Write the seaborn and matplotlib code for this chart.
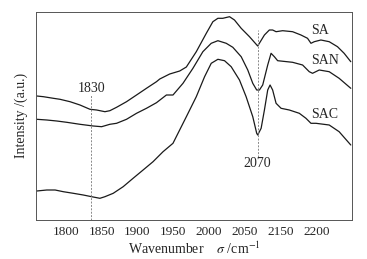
import numpy as np
import pandas as pd
import matplotlib
matplotlib.use("Agg")
import matplotlib.pyplot as plt
import seaborn as sns

# ---- data ----
sa_w = [1759.1, 1768.4, 1782.3, 1791.6, 1805.6, 1819.5, 1833.5, 1842.8, 1854.4, 1861.3,
        1870.7, 1884.6, 1898.6, 1912.5, 1926.5, 1931.1, 1945.0, 1959.0, 1968.3, 1982.2,
        1996.2, 2005.4, 2012.4, 2019.3, 2028.7, 2035.6, 2045.0, 2056.6, 2068.1, 2077.5,
        2084.4, 2089.0, 2093.8, 2103.0, 2116.9, 2128.6, 2137.8, 2142.6, 2147.2, 2156.5,
        2168.1, 2179.7, 2189.0, 2198.3]
sa_i = [124.0, 123.3, 121.7, 120.7, 118.3, 115.0, 110.7, 110.0, 108.3, 109.3,
        112.7, 118.3, 125.0, 131.7, 138.3, 141.0, 146.0, 149.0, 153.0, 168.3,
        186.7, 198.3, 201.7, 201.7, 203.3, 200.0, 191.7, 183.3, 174.0, 185.0,
        190.0, 190.0, 188.3, 189.3, 188.3, 185.0, 181.7, 176.7, 178.3, 180.0,
        178.3, 173.3, 166.7, 158.3]

san_w = [1759.1, 1773.1, 1787.0, 1801.0, 1819.5, 1838.1, 1849.8, 1861.3, 1870.7, 1884.6,
         1898.6, 1912.5, 1926.5, 1940.4, 1949.6, 1963.6, 1977.5, 1991.4, 2003.1, 2012.4,
         2024.1, 2033.3, 2045.0, 2054.2, 2061.2, 2066.7, 2070.5, 2075.1, 2082.1, 2086.8,
         2091.4, 2096.0, 2116.9, 2130.9, 2140.2, 2144.8, 2154.2, 2168.1, 2182.0, 2198.3]
san_i = [100.7, 100.0, 99.0, 97.7, 95.7, 94.0, 93.3, 95.7, 96.7, 100.7,
         106.7, 111.7, 117.3, 125.0, 125.0, 136.7, 151.7, 168.3, 176.7, 179.3,
         176.7, 172.7, 163.3, 150.0, 136.7, 130.0, 130.0, 135.0, 155.0, 166.7,
         163.3, 159.3, 157.7, 155.0, 148.3, 146.7, 150.0, 148.3, 141.7, 131.7]

sac_w = [1759.1, 1773.1, 1784.7, 1796.2, 1810.2, 1824.1, 1835.8, 1847.4, 1854.4, 1866.0,
         1879.9, 1893.8, 1907.8, 1921.7, 1935.7, 1949.6, 1968.3, 1982.2, 1993.8, 2003.1,
         2012.4, 2021.7, 2031.0, 2042.6, 2051.9, 2061.2, 2066.7, 2068.1, 2072.9, 2077.5,
         2082.1, 2085.4, 2089.0, 2093.8, 2100.8, 2112.3, 2126.3, 2135.6, 2142.6, 2149.6,
         2168.1, 2182.0, 2198.3]
sac_i = [29.0, 30.0, 30.0, 28.3, 26.7, 25.0, 23.3, 21.7, 23.3, 26.7,
         33.3, 41.7, 50.0, 58.3, 68.3, 76.7, 103.3, 123.3, 143.3, 156.7,
         160.7, 159.3, 153.3, 140.0, 123.3, 103.3, 86.7, 85.0, 91.7, 110.0,
         130.0, 135.0, 130.0, 116.7, 111.7, 110.0, 106.7, 101.7, 96.7, 96.7,
         95.0, 88.3, 75.0]

series_names = ["SA", "SAN", "SAC"]
tick_positions = [1800, 1850, 1900, 1950, 2000, 2050, 2100, 2150]
tick_labels = ["1800", "1850", "1900", "1950", "2000", "2050", "2150", "2200"]
marker_lines = [1835, 2068]
marker_labels = ["1830", "2070"]

df = pd.concat([
    pd.DataFrame({"w": sa_w, "I": sa_i, "s": "SA"}),
    pd.DataFrame({"w": san_w, "I": san_i, "s": "SAN"}),
    pd.DataFrame({"w": sac_w, "I": sac_i, "s": "SAC"}),
], ignore_index=True)

sns.set_style("white")
plt.rcParams["font.family"] = ["Liberation Serif", "DejaVu Serif"]
plt.rcParams["mathtext.fontset"] = "stix"

fig = plt.figure(figsize=(3.67, 2.59), dpi=100)
ax = fig.add_axes([36 / 367, 1 - 220 / 259, (352 - 36) / 367, (220 - 11.7) / 259])

sns.lineplot(data=df, x="w", y="I", hue="s", units="s", estimator=None, sort=False,
             palette=["#1a1a1a"] * 3, linewidth=0.9, legend=False, ax=ax)

ax.set_xlim(1758, 2200)
ax.set_ylim(0, 208.3)

# dashed reference lines
ax.plot([marker_lines[0]] * 2, [0, 125], ls=(0, (2, 1.5)), color="#888888", lw=0.7)
ax.plot([marker_lines[1]] * 2, [63, 190], ls=(0, (2, 1.5)), color="#888888", lw=0.7)
ax.text(marker_lines[0], 131, marker_labels[0], ha="center", va="center", fontsize=10)
ax.text(marker_lines[1], 56, marker_labels[1], ha="center", va="center", fontsize=10)

for name, y in zip(series_names, [189, 159, 105.5]):
    ax.text(2142.6, y, name, ha="left", va="center", fontsize=10)

ax.set_xticks(tick_positions)
ax.set_xticklabels(tick_labels)
ax.set_xticks([1775 + 50 * k for k in range(9)], minor=True)
ax.set_yticks([])
ax.tick_params(axis="x", which="major", direction="in", length=3, width=0.6,
               labelsize=9.5, pad=4, color="#333333")
ax.tick_params(axis="x", which="minor", direction="in", length=2, width=0.6,
               color="#333333")
for sp in ax.spines.values():
    sp.set_color("#555555")
    sp.set_linewidth(0.7)

ax.set_xlabel(r"Wavenumber    $\sigma$ /cm$^{-1}$", fontsize=10, labelpad=2)
ax.set_ylabel("Intensity /(a.u.)", fontsize=10, labelpad=6)

fig.savefig("out.png", dpi=100)
